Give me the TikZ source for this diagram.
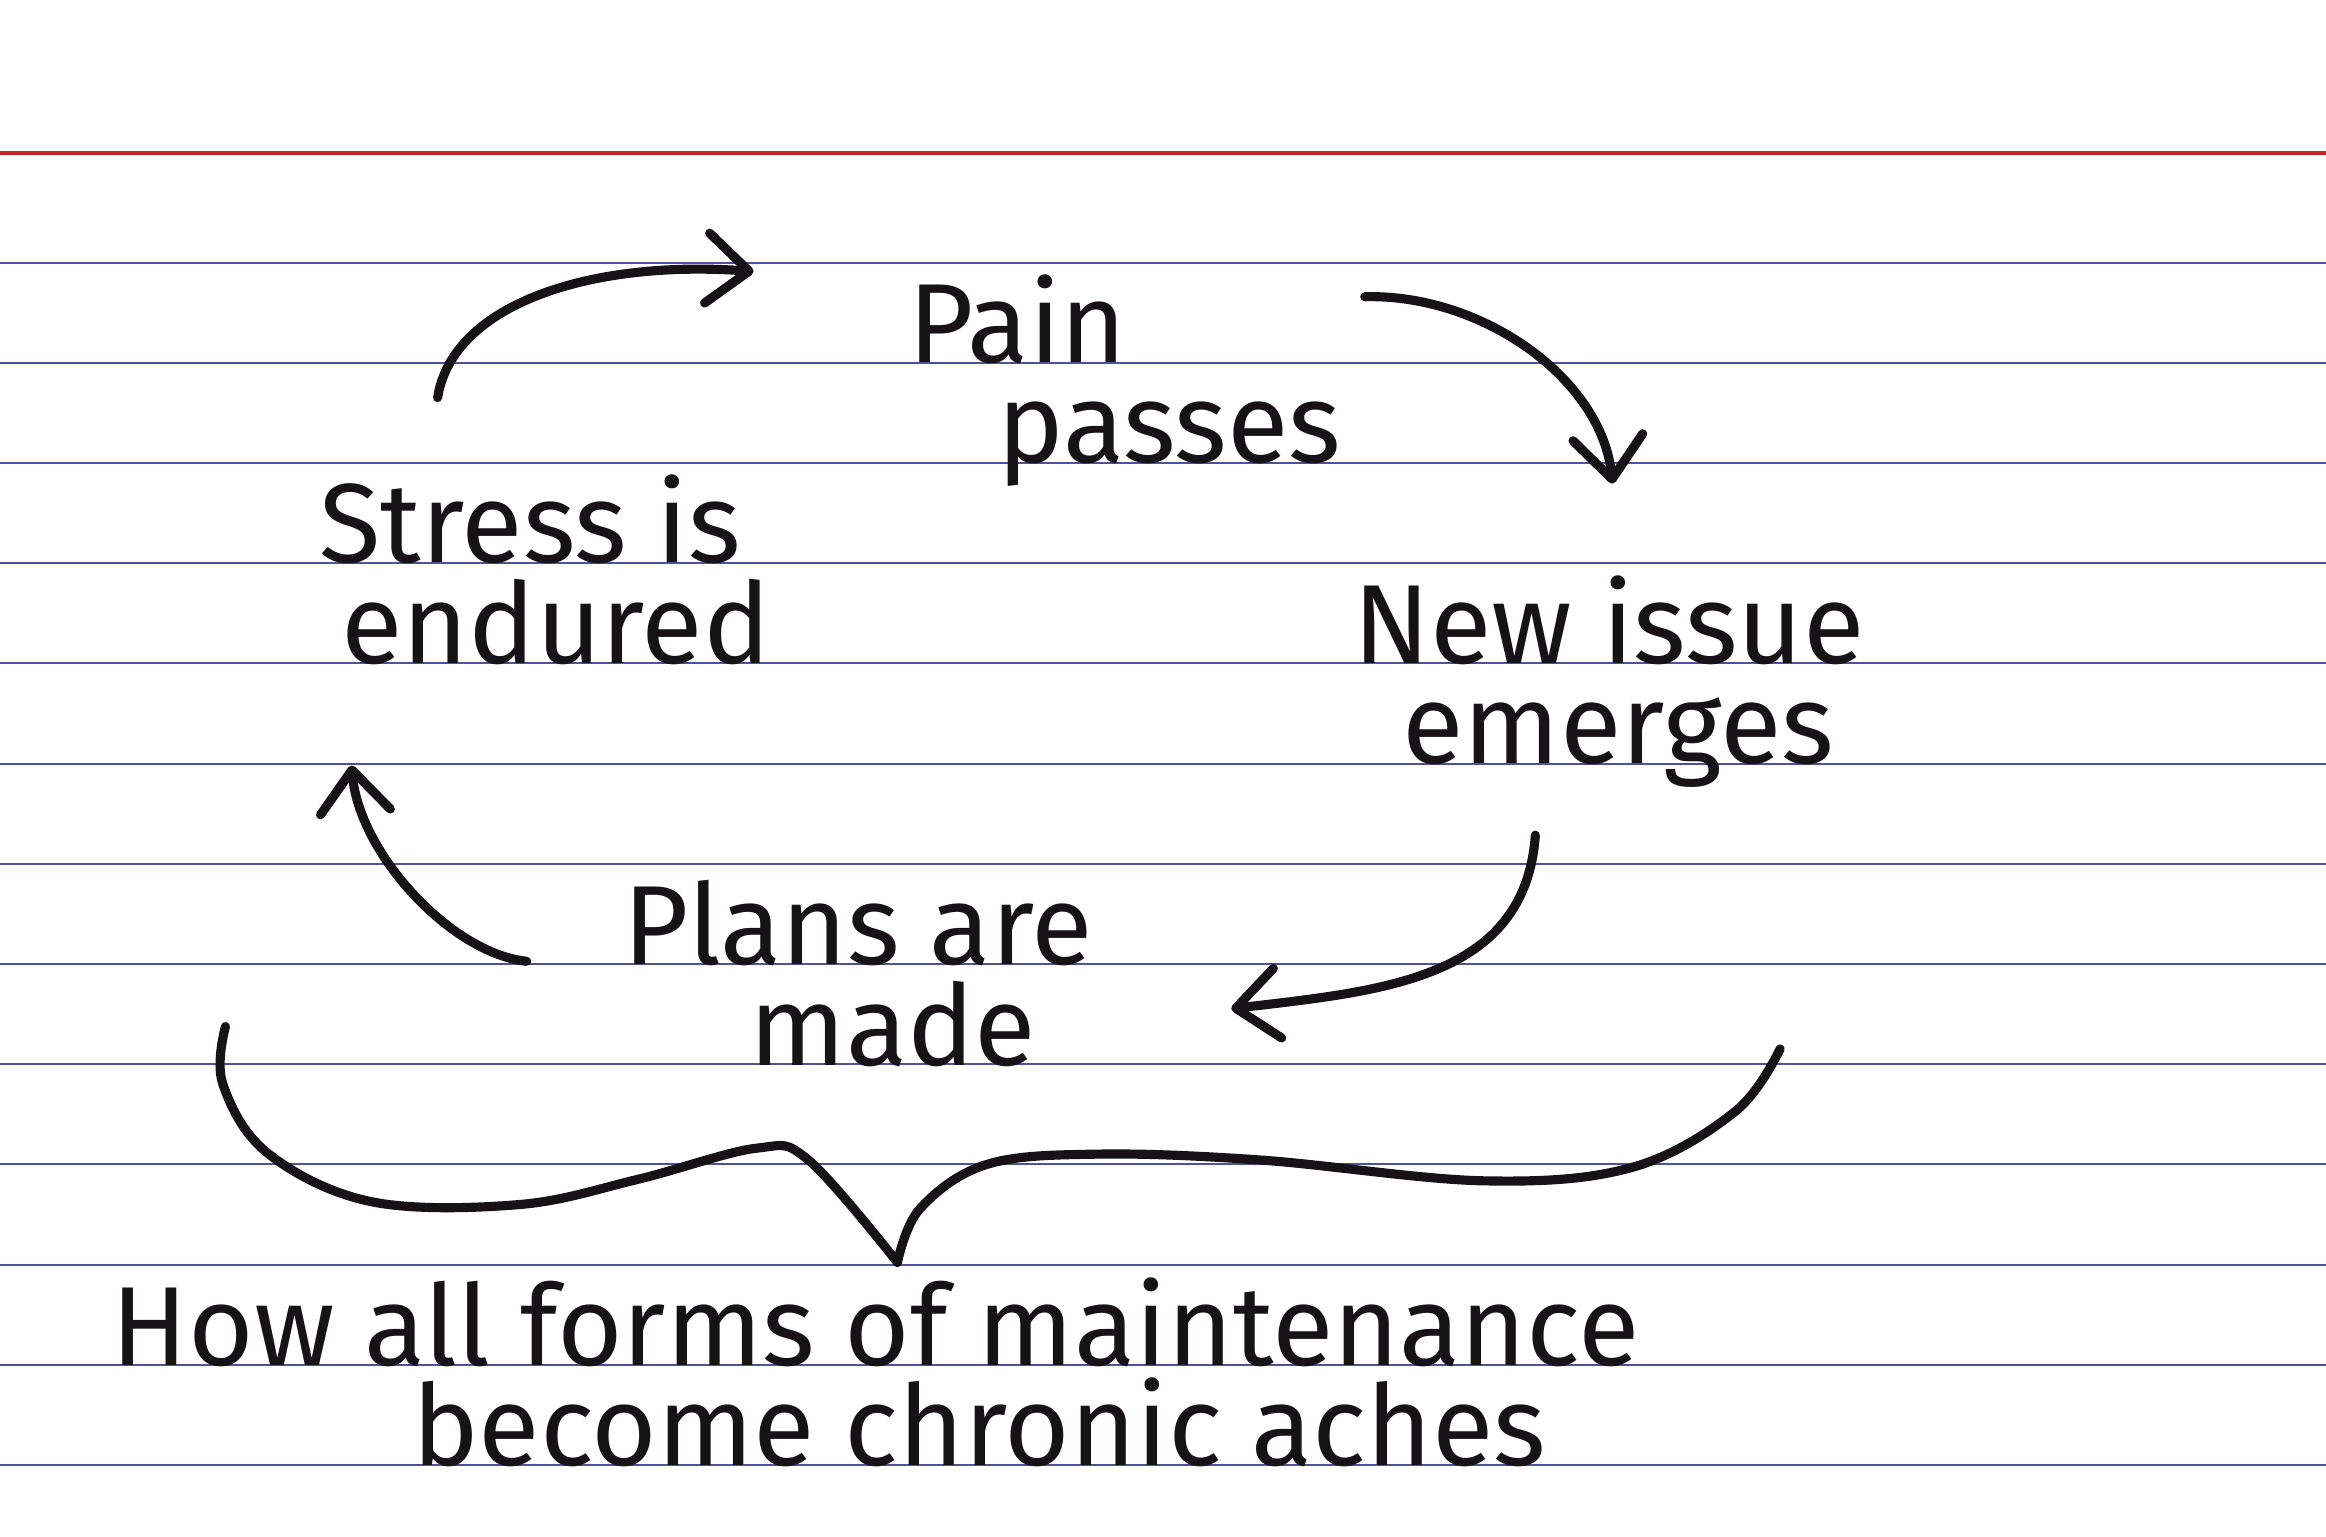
\documentclass[tikz,border=0pt]{standalone}
\usepackage{fontspec}
\setmainfont{Fira Sans}
\usetikzlibrary{arrows.meta}
\definecolor{ink}{RGB}{22,18,22}
\definecolor{cardblue}{RGB}{80,80,160}
\definecolor{cardred}{RGB}{205,35,40}

\begin{document}
\begin{tikzpicture}[x=0.014834cm, y=-0.014834cm]
    \tikzstyle{hand} = [inner sep=0pt, align=left, text=ink, font=\fontsize{32}{28.5}\selectfont]
    \tikzstyle{flow} = [draw=ink, line width=2.6pt, line cap=round, -{Straight Barb[length=0.42cm, width=0.7cm, round]}]
    \tikzstyle{brace} = [draw=ink, line width=2.6pt, line cap=round, line join=round]

    % index card
    \fill[white] (0,0) rectangle (1568,1036);
    \useasboundingbox (0,0) rectangle (1568,1036);
    \draw[cardred, line width=1.3pt] (0,103) -- (1568,103);
    \foreach \k in {0,...,12}
        \draw[cardblue, line width=0.6pt] (0,177+67.55*\k) -- (1568,177+67.55*\k);

    \node[hand, anchor=base west] (pain) at (612,312) {Pain\\\hspace*{0.89cm}passes};
    \node[hand, anchor=base west] (stress) at (215,447) {Stress is\\\hspace*{0.22cm}endured};
    \node[hand, anchor=base west] (issue) at (912,515) {New issue\\\hspace*{0.49cm}emerges};
    \node[hand, anchor=base west] (plans) at (420,718) {Plans are\\\hspace*{1.26cm}made};
    \node[hand, anchor=base west] (caption) at (75,988) {How all forms of maintenance\\\hspace*{3.0cm}become chronic aches};

    \draw[flow] ([shift={(80,-179)}]stress.base west) .. controls +(10,-63) and +(-110,-8) .. ([shift={(-104,-129)}]pain.base west);
    \draw[flow] ([shift={(308,-112)}]pain.base west) .. controls +(80,-2) and +(-7,-70) .. ([shift={(175,-189)}]issue.base west);
    \draw[flow] ([shift={(123,48)}]issue.base west) .. controls +(-7,98) and +(100,-12) .. ([shift={(410,-38)}]plans.base west);
    \draw[flow] ([shift={(-65,-70)}]plans.base west) .. controls +(-50,-5) and +(5,60) .. ([shift={(22,69)}]stress.base west);

    % brace over the caption
    \coordinate (tip) at (605,851);
    \draw[brace] plot[smooth, tension=0.6] coordinates {(152,692) (150,730) (180,777) (250,810) (350,812) (430,795) (510,774) (545,782) (tip)};
    \draw[brace] plot[smooth, tension=0.6] coordinates {(tip) (620,815) (665,785) (740,778) (850,782) (1000,796) (1100,787) (1170,749) (1200,707)};
\end{tikzpicture}
\end{document}
